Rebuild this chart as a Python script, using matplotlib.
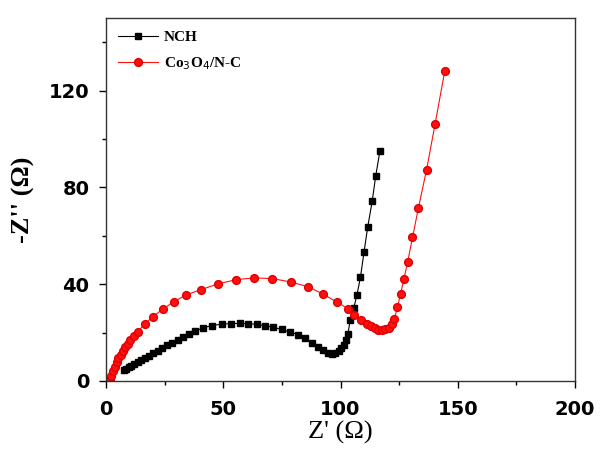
import matplotlib
matplotlib.use("Agg")
import matplotlib.pyplot as plt
from matplotlib.ticker import MultipleLocator

# NCH data (Z', -Z'')
nch_x = [7.5, 8.5, 9.6, 10.8, 12.1, 13.5, 15.0, 16.6, 18.3, 20.1, 22.0, 24.0, 26.1,
         28.3, 30.6, 33.0, 35.5, 38.0, 41.5, 45.1, 49.3, 53.4, 57.1, 60.7, 64.3,
         67.8, 71.3, 74.9, 78.5, 82.0, 85.0, 88.0, 90.5, 92.7, 94.5, 96.2, 97.8,
         99.2, 100.4, 101.5, 102.4, 103.2, 104.1, 105.6, 107.0, 108.5, 110.0,
         111.6, 113.5, 115.0, 116.8]
nch_y = [4.5, 5.1, 5.7, 6.4, 7.1, 7.8, 8.6, 9.5, 10.4, 11.4, 12.5, 13.6, 14.7,
         15.9, 17.1, 18.3, 19.5, 20.6, 22.0, 22.9, 23.5, 23.7, 23.8, 23.7, 23.4,
         22.9, 22.2, 21.3, 20.3, 19.0, 17.6, 15.8, 14.2, 12.8, 11.7, 11.3, 11.5,
         12.4, 13.5, 15.0, 16.8, 19.5, 25.1, 30.0, 35.5, 42.8, 53.1,
         63.6, 74.2, 84.6, 95.0]

# Co3O4/N-C data (Z', -Z'')
co_x = [1.6, 2.3, 3.0, 3.7, 4.5, 5.3, 6.2, 7.1, 8.1, 9.2, 10.4, 11.9, 13.6,
        16.5, 20.0, 24.2, 28.9, 34.2, 40.6, 47.7, 55.5, 63.3, 71.0, 78.9,
        86.3, 92.6, 98.3, 103.2, 105.8, 108.8, 111.4, 113.0, 114.5, 116.0,
        117.5, 119.0, 120.5, 121.8, 123.0, 124.3, 125.6, 127.0, 128.6, 130.7,
        133.2, 136.7, 140.3, 144.5]
co_y = [0.3, 2.2, 4.0, 5.9, 7.7, 9.3, 10.9, 12.4, 13.9, 15.4, 16.9, 18.6, 20.4,
        23.6, 26.6, 29.7, 32.7, 35.6, 37.8, 40.1, 41.9, 42.6, 42.3, 40.9,
        38.9, 35.9, 32.7, 29.9, 27.3, 25.2, 23.6, 22.6, 21.8, 21.2,
        21.0, 21.3, 22.1, 23.5, 25.8, 30.5, 36.0, 42.0, 49.0, 59.3,
        71.4, 87.3, 106.0, 128.3]

plt.rcParams['font.family'] = ['DejaVu Sans']
fig = plt.figure(figsize=(6.10, 4.54), dpi=100)
ax = fig.add_axes([106/610, 1-381/454, (575-106)/610, (381-18)/454])

ax.plot(nch_x, nch_y, color='black', lw=0.8, marker='s', ms=5.0,
        mec='black', mfc='black', label='NCH')
ax.plot(co_x, co_y, color='#ff1010', lw=0.8, marker='o', ms=5.6,
        mec='#e00000', mfc='#ff1010', label=r'Co$_3$O$_4$/N-C')

ax.set_xlim(0, 200)
ax.set_ylim(0, 150)
ax.xaxis.set_major_locator(MultipleLocator(50))
ax.xaxis.set_minor_locator(MultipleLocator(25))
ax.yaxis.set_major_locator(MultipleLocator(40))
ax.yaxis.set_minor_locator(MultipleLocator(20))
ax.tick_params(which='major', direction='out', length=5, width=1.0, pad=7,
               labelsize=14, top=False, right=False)
ax.tick_params(which='major', axis='x', pad=9)
ax.tick_params(which='minor', direction='out', length=3, width=1.0,
               top=False, right=False)
for lab in ax.get_xticklabels() + ax.get_yticklabels():
    lab.set_fontweight('bold')
for s in ax.spines.values():
    s.set_linewidth(1.0)
    s.set_color('#333333')

ax.set_xlabel("Z' (\u03a9)", family='Liberation Serif', fontsize=19, labelpad=1)
ax.set_ylabel("-Z'' (\u03a9)", family='Liberation Serif', fontsize=19,
              fontweight='bold', labelpad=10)

leg = ax.legend(loc='upper left', bbox_to_anchor=(0.0, 1.0), frameon=False,
                numpoints=1, handlelength=2.6, handletextpad=0.4,
                labelspacing=0.75, borderaxespad=0.4,
                prop={'family': 'Liberation Serif', 'weight': 'bold', 'size': 11})

fig.savefig('out.png', dpi=100)
